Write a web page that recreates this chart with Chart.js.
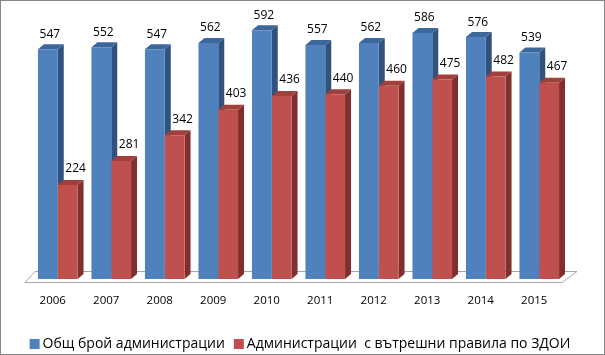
<!DOCTYPE html>
<html><head><meta charset="utf-8">
<script src="https://cdn.jsdelivr.net/npm/chart.js@4/dist/chart.umd.min.js"></script>
<style>html,body{margin:0;padding:0;background:#fff}</style>
</head><body>
<canvas id="c" width="605" height="355"></canvas>
<script>
const years = ['2006','2007','2008','2009','2010','2011','2012','2013','2014','2015'];
const totalAdmins = [547,552,547,562,592,557,562,586,576,539];
const withRules = [224,281,342,403,436,440,460,475,482,467];
const seriesNames = ['Общ брой администрации','Администрации  с вътрешни правила по ЗДОИ'];

const FRONT = ['#4F81BD','#C0504D'];
const SIDE = ['#30527D','#7F302E'];
const TOP = ['#3D679B','#A0403D'];
const DX = 6, DY = 5;
const FONT = '"Open Sans", "DejaVu Sans", sans-serif';

const threeD = {
  id: 'threeD',
  beforeDatasetsDraw(chart) {
    const ctx = chart.ctx, a = chart.chartArea;
    const y0 = chart.scales.y.getPixelForValue(0);
    ctx.save();
    // floor
    ctx.beginPath();
    ctx.moveTo(a.left - 6, y0 + 3.5);
    ctx.lineTo(a.right - 4, y0 + 3.5);
    ctx.lineTo(a.right + 11, y0 - 7.5);
    ctx.lineTo(a.left + 4, y0 - 7.5);
    ctx.closePath();
    ctx.fillStyle = '#fff'; ctx.fill();
    ctx.strokeStyle = '#a6a6a6'; ctx.lineWidth = 1; ctx.stroke();
    // depth faces
    chart.data.datasets.forEach((ds, di) => {
      const meta = chart.getDatasetMeta(di);
      meta.data.forEach(bar => {
        const p = bar.getProps(['x','y','base','width'], true);
        const l = p.x - p.width/2, r = p.x + p.width/2;
        ctx.fillStyle = SIDE[di];
        ctx.beginPath();
        ctx.moveTo(r, p.y); ctx.lineTo(r + DX, p.y - DY);
        ctx.lineTo(r + DX, p.base - DY); ctx.lineTo(r, p.base);
        ctx.closePath(); ctx.fill();
        ctx.fillStyle = TOP[di];
        ctx.beginPath();
        ctx.moveTo(l, p.y); ctx.lineTo(l + DX, p.y - DY);
        ctx.lineTo(r + DX, p.y - DY); ctx.lineTo(r, p.y);
        ctx.closePath(); ctx.fill();
      });
    });
    ctx.restore();
  },
  afterDatasetsDraw(chart) {
    const ctx = chart.ctx;
    ctx.save();
    ctx.fillStyle = '#000';
    ctx.textAlign = 'center'; ctx.textBaseline = 'middle';
    ctx.font = '12px ' + FONT;
    const offX = [2, 8], offY = [15, 16];
    chart.data.datasets.forEach((ds, di) => {
      chart.getDatasetMeta(di).data.forEach((bar, i) => {
        const p = bar.getProps(['x','y'], true);
        ctx.fillText(String(ds.data[i]), p.x + offX[di], p.y - offY[di]);
      });
    });
    // category labels
    const xs = chart.scales.x, y0 = chart.scales.y.getPixelForValue(0);
    ctx.font = '11.5px ' + FONT;
    chart.data.labels.forEach((lab, i) => {
      ctx.fillText(lab, xs.getPixelForValue(i) - 5, y0 + 22);
    });
    // legend
    ctx.font = '14px ' + FONT;
    ctx.textAlign = 'left';
    const box = 10, gap = 3, sep = 9;
    const items = chart.data.datasets.map(d => ({t: d.label, w: ctx.measureText(d.label).width}));
    const total = items.reduce((s, it) => s + box + gap + it.w, 0) + sep * (items.length - 1);
    let x = 300 - total/2;
    const ly = 344;
    items.forEach((it, di) => {
      ctx.fillStyle = FRONT[di];
      ctx.fillRect(x, ly - 5, box, box);
      x += box + gap;
      ctx.fillStyle = '#000';
      ctx.fillText(it.t, x, ly);
      x += it.w + sep;
    });
    // outer border
    ctx.strokeStyle = '#868686'; ctx.lineWidth = 1;
    ctx.strokeRect(0.5, 0.5, 604, 354);
    ctx.restore();
  }
};

new Chart(document.getElementById('c'), {
  type: 'bar',
  data: {
    labels: years,
    datasets: [
      {label: seriesNames[0], data: totalAdmins, backgroundColor: FRONT[0], borderWidth: 0},
      {label: seriesNames[1], data: withRules, backgroundColor: FRONT[1], borderWidth: 0}
    ]
  },
  options: {
    responsive: false,
    animation: false,
    layout: {padding: {left: 31, right: 39, top: 6, bottom: 76}},
    datasets: {bar: {categoryPercentage: 0.74, barPercentage: 1.0}},
    scales: {
      x: {display: false},
      y: {display: false, min: 0, max: 650}
    },
    plugins: {legend: {display: false}, tooltip: {enabled: false}}
  },
  plugins: [threeD]
});
</script>
</body></html>
